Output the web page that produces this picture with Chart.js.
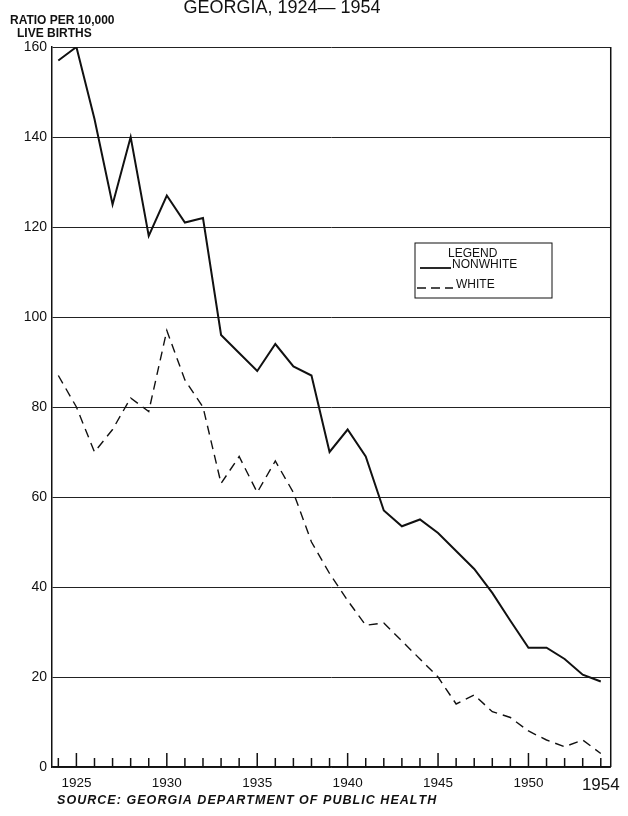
<!DOCTYPE html>
<html>
<head>
<meta charset="utf-8">
<script src="https://cdn.jsdelivr.net/npm/chart.js@4/dist/chart.umd.min.js"></script>
<style>
  html, body { margin: 0; padding: 0; background: #fff; }
  #wrap { width: 628px; height: 816px; position: relative; }
</style>
</head>
<body>
<div id="wrap"><canvas id="c" width="628" height="816"></canvas></div>
<script>
const years = [1924,1925,1926,1927,1928,1929,1930,1931,1932,1933,1934,1935,1936,1937,1938,1939,1940,1941,1942,1943,1944,1945,1946,1947,1948,1949,1950,1951,1952,1953,1954];
const nonwhite = [157,160,144,125,140,118,127,121,122,96,92,88,94,89,87,70,75,69,57,53.5,55,52,48,44,38.7,32.5,26.5,26.5,24,20.5,19];
const white = [87,80,70,75,82,79,97,86,80,63,69,61,68,61,50,43,37,31.5,32,28,24,20,14,16,12.3,11,8,6,4.5,6,3];
const xTickLabels = [1925,1930,1935,1940,1945,1950,1954];
const yTicks = [0,20,40,60,80,100,120,140,160];
const titleText = 'GEORGIA, 1924\u2014 1954';
const yTitle1 = 'RATIO PER 10,000';
const yTitle2 = 'LIVE BIRTHS';
const sourceText = 'SOURCE: GEORGIA DEPARTMENT OF PUBLIC HEALTH';
const legendTitle = 'LEGEND';
const seriesNames = ['NONWHITE','WHITE'];

const FONT = "'Liberation Sans', 'DejaVu Sans', sans-serif";

const decor = {
  id: 'decor',
  afterDraw(chart) {
    const ctx = chart.ctx;
    const xs = chart.scales.x;
    const ca = chart.chartArea;
    ctx.save();
    // right border
    ctx.strokeStyle = '#111';
    ctx.lineWidth = 1.5;
    ctx.beginPath();
    ctx.moveTo(ca.right, ca.top);
    ctx.lineTo(ca.right, ca.bottom);
    ctx.stroke();
    // year tick marks (upward, inside)
    ctx.lineWidth = 1.5;
    years.forEach(y => {
      const px = xs.getPixelForValue(y);
      const h = (y % 5 === 0) ? 14 : 9;
      ctx.beginPath();
      ctx.moveTo(px, ca.bottom);
      ctx.lineTo(px, ca.bottom - h);
      ctx.stroke();
    });
    // title
    ctx.fillStyle = '#111';
    ctx.font = '18px ' + FONT;
    ctx.textAlign = 'center';
    ctx.textBaseline = 'alphabetic';
    ctx.fillText(titleText, 282, 13);
    // y axis title
    ctx.font = 'bold 12px ' + FONT;
    ctx.textAlign = 'left';
    ctx.fillText(yTitle1, 10, 24);
    ctx.fillText(yTitle2, 17, 37);
    // source
    ctx.font = 'italic bold 12.5px ' + FONT;
    ctx.fillText(sourceText.split('').join('\u200A'), 57, 804);
    // legend box
    const bx = 415, by = 243, bw = 137, bh = 55;
    ctx.lineWidth = 1;
    ctx.strokeRect(bx, by, bw, bh);
    ctx.font = '12px ' + FONT;
    ctx.textAlign = 'left';
    ctx.fillText(legendTitle, 448, 257);
    ctx.fillText(seriesNames[0], 452, 268);
    ctx.fillText(seriesNames[1], 456, 288);
    ctx.lineWidth = 1.8;
    ctx.beginPath(); ctx.moveTo(420, 268); ctx.lineTo(451, 268); ctx.stroke();
    ctx.lineWidth = 1.3;
    ctx.setLineDash([9, 5]);
    ctx.beginPath(); ctx.moveTo(417, 288); ctx.lineTo(453, 288); ctx.stroke();
    ctx.setLineDash([]);
    ctx.restore();
  }
};

new Chart(document.getElementById('c'), {
  type: 'line',
  data: {
    datasets: [
      {
        label: seriesNames[0],
        data: years.map((y, i) => ({x: y, y: nonwhite[i]})),
        borderColor: '#111',
        borderWidth: 2,
        pointRadius: 0,
        tension: 0,
        fill: false
      },
      {
        label: seriesNames[1],
        data: years.map((y, i) => ({x: y, y: white[i]})),
        borderColor: '#111',
        borderWidth: 1.4,
        borderDash: [9, 6],
        pointRadius: 0,
        tension: 0,
        fill: false
      }
    ]
  },
  options: {
    responsive: false,
    animation: false,
    devicePixelRatio: 1,
    layout: { padding: { left: 0, right: 17, top: 47, bottom: 26 } },
    plugins: { legend: { display: false }, tooltip: { enabled: false } },
    scales: {
      x: {
        type: 'linear',
        min: 1923.65,
        max: 1954.55,
        afterBuildTicks(scale) { scale.ticks = xTickLabels.map(v => ({value: v})); },
        afterFit(scale) { scale.height = 23; },
        grid: { display: false, drawTicks: false },
        border: { display: true, color: '#111', width: 1.5 },
        ticks: {
          color: '#111',
          padding: 8,
          maxRotation: 0,
          autoSkip: false,
          font: (c) => (c.tick && c.tick.value === 1954) ? { family: FONT, size: 17 } : { family: FONT, size: 13.5 },
          callback: (v) => String(v)
        }
      },
      y: {
        min: 0,
        max: 160,
        afterBuildTicks(scale) { scale.ticks = yTicks.map(v => ({value: v})); },
        afterFit(scale) { scale.width = 52; },
        grid: { color: '#222', lineWidth: 1, drawTicks: false },
        border: { display: true, color: '#111', width: 1.5 },
        ticks: {
          color: '#111',
          padding: 5,
          font: { family: FONT, size: 14 },
          callback: (v) => String(v)
        }
      }
    }
  },
  plugins: [decor]
});
</script>
</body>
</html>
